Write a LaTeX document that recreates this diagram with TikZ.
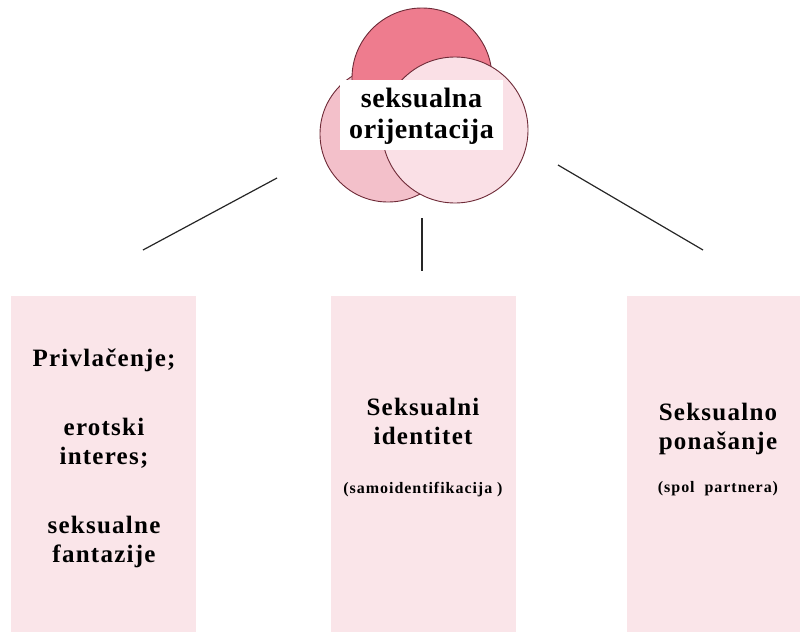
\documentclass[tikz,border=0pt]{standalone}
\usepackage{fontspec}
\setmainfont{Liberation Serif}
\definecolor{topc}{RGB}{238,124,142}
\definecolor{leftc}{RGB}{243,192,202}
\definecolor{rightc}{RGB}{250,224,230}
\definecolor{edgec}{RGB}{110,42,55}
\definecolor{boxc}{RGB}{250,229,233}
\begin{document}
\begin{tikzpicture}[x=1pt,y=-1pt,
  ring/.style={draw=edgec,line width=0.9pt},
  panel/.style={fill=boxc,draw=none,anchor=north west,inner sep=0},
  big/.style={align=center,inner sep=0,font=\fontsize{25}{29}\selectfont\bfseries\addfontfeature{LetterSpace=5}},
  link/.style={draw=black!85,line width=1.2pt}]
\useasboundingbox (0,0) rectangle (800,632);
% circles
\fill[leftc] (388,134) circle (68);
\draw[ring] (388,134) circle (68);
\fill[topc] (422,78) circle (70);
\draw[ring] (422,78) circle (70);
\fill[rightc] (455,130) circle (73);
\draw[ring] (455,130) circle (73);
\node[fill=white,minimum width=163pt,minimum height=70pt,inner sep=0] (lab) at (421.5,115) {};
\node[align=center,inner sep=0,font=\fontsize{28}{31}\selectfont\bfseries\addfontfeature{LetterSpace=2}] (orient) at (421.5,116) {seksualna\\orijentacija};
% panels
\node[panel,minimum width=185pt,minimum height=336pt] (pl) at (11,296) {};
\node[panel,minimum width=185pt,minimum height=336pt] (pm) at (331,296) {};
\node[panel,minimum width=185pt,minimum height=336pt] (pr) at (627,296) {};
\node[big] (tl) at (104,458.5) {Privlačenje;\\[40pt]erotski\\interes;\\[40pt]seksualne\\fantazije};
\node[big] (tm) at (423,448) {Seksualni\\identitet\\[20pt]{\fontsize{16}{20}\selectfont\addfontfeature{LetterSpace=6}(samoidentifikacija )}};
\node[big] (tr) at (718,450) {Seksualno\\ponašanje\\[14pt]{\fontsize{16}{20}\selectfont\addfontfeature{LetterSpace=6}(spol\ \ partnera)}};
% connectors
\coordinate (l1) at (277,178);
\coordinate (l2) at (143,250);
\coordinate (m1) at (422,218);
\coordinate (m2) at (422,271);
\coordinate (r1) at (558,165);
\coordinate (r2) at (703,250);
\draw[link] (l1) -- (l2);
\draw[link] (m1) -- (m2);
\draw[link] (r1) -- (r2);
\end{tikzpicture}
\end{document}
